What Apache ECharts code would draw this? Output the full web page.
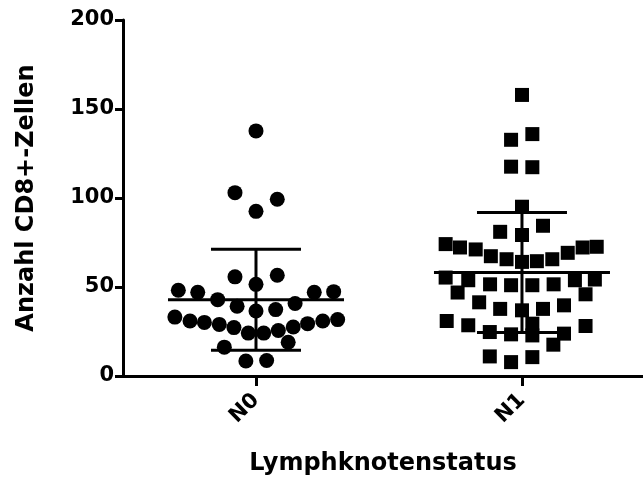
<!DOCTYPE html>
<html>
<head>
<meta charset="utf-8">
<script src="https://cdn.jsdelivr.net/npm/echarts@6/dist/echarts.min.js"></script>
<style>
  html, body { margin: 0; padding: 0; background: #fff; }
  #chart { width: 643px; height: 481px; }
</style>
</head>
<body>
<div id="chart"></div>
<script>
// Group names on the x axis
const categories = ['N0', 'N1'];
const yTicks = [0, 50, 100, 150, 200];

// N0: CD8+ counts and horizontal spread inside the column (axis units)
const n0Values = [137.7, 103.0, 99.3, 92.5, 55.7, 56.6, 51.5, 48.2, 47.0, 47.0, 47.4,
  42.9, 39.2, 36.5, 37.3, 40.7, 33.1, 30.9, 30.1, 29.0, 27.2, 24.1, 24.1, 25.6,
  27.5, 29.4, 30.9, 31.7, 16.2, 19.0, 8.4, 8.7];
const n0Offsets = [0, -0.079, 0.080, 0, -0.079, 0.080, 0, -0.292, -0.219, 0.219, 0.292,
  -0.144, -0.071, 0, 0.074, 0.147, -0.305, -0.248, -0.194, -0.138, -0.083, -0.029, 0.029, 0.084,
  0.140, 0.194, 0.251, 0.307, -0.119, 0.121, -0.038, 0.040];

// N1: CD8+ counts and horizontal spread inside the column (axis units)
const n1Values = [157.9, 132.7, 135.9, 117.6, 117.3, 95.1, 81.0, 84.4, 79.2,
  74.1, 72.2, 71.1, 67.3, 65.6, 64.1, 64.5, 65.6, 69.2, 72.2, 72.6,
  55.3, 53.8, 51.5, 51.0, 51.0, 51.5, 53.8, 54.2,
  46.9, 45.9, 41.4, 39.7, 37.7, 36.9, 37.7,
  30.9, 28.5, 28.1, 29.4, 24.7, 23.4, 22.8, 23.8, 17.6, 11.0, 7.8, 10.6];
const n1Offsets = [0, -0.041, 0.039, -0.041, 0.039, 0, -0.082, 0.079, 0,
  -0.287, -0.233, -0.174, -0.117, -0.058, 0, 0.056, 0.114, 0.172, 0.228, 0.281,
  -0.287, -0.202, -0.120, -0.041, 0.039, 0.119, 0.199, 0.274,
  -0.242, 0.239, -0.161, 0.158, -0.082, 0, 0.079,
  -0.283, -0.202, 0.239, 0.039, -0.121, -0.041, 0.039, 0.158, 0.118, -0.121, -0.041, 0.039];

// Mean and standard deviation per group
const groupMeans = [42.8, 58.1];
const groupSds = [28.4, 33.7];

const FONT = 'DejaVu Sans';

function points(values, offsets, catIndex) {
  return values.map((v, i) => [catIndex + offsets[i], v]);
}

const chart = echarts.init(document.getElementById('chart'), null, { renderer: 'canvas' });

const axisLineStyle = { color: '#000', width: 3 };

chart.setOption({
  backgroundColor: '#fff',
  animation: false,
  grid: { left: 123, right: 0, top: 20, bottom: 105 },
  xAxis: {
    type: 'value',
    min: -0.5,
    max: 1.455,
    splitLine: { show: false },
    axisLine: { show: true, onZero: false, lineStyle: axisLineStyle },
    axisTick: { show: true, customValues: [0, 1], length: 10, lineStyle: { color: '#000', width: 3 } },
    axisLabel: {
      customValues: [0, 1],
      formatter: v => categories[Math.round(v)],
      rotate: 45,
      margin: 21,
      color: '#000',
      fontFamily: FONT,
      fontWeight: 'bold',
      fontSize: 21
    },
    name: 'Lymphknotenstatus',
    nameLocation: 'middle',
    nameGap: 76,
    nameTextStyle: { color: '#000', fontFamily: FONT, fontWeight: 'bold', fontSize: 24 }
  },
  yAxis: {
    type: 'value',
    min: 0,
    max: 200,
    interval: 50,
    splitLine: { show: false },
    axisLine: { show: true, onZero: false, lineStyle: axisLineStyle },
    axisTick: { show: true, length: 8, lineStyle: { color: '#000', width: 3 } },
    axisLabel: {
      formatter: v => (yTicks.includes(v) ? String(v) : ''),
      margin: 9,
      color: '#000',
      fontFamily: FONT,
      fontWeight: 'bold',
      fontSize: 21
    },
    name: 'Anzahl CD8+-Zellen',
    nameLocation: 'middle',
    nameRotate: 90,
    nameGap: 84,
    nameTextStyle: { color: '#000', fontFamily: FONT, fontWeight: 'bold', fontSize: 24 }
  },
  series: [
    {
      name: 'N0',
      type: 'scatter',
      symbol: 'circle',
      symbolSize: 15,
      itemStyle: { color: '#000', opacity: 1 },
      data: points(n0Values, n0Offsets, 0)
    },
    {
      name: 'N1',
      type: 'scatter',
      symbol: 'rect',
      symbolSize: 14,
      itemStyle: { color: '#000', opacity: 1 },
      data: points(n1Values, n1Offsets, 1)
    },
    {
      // mean line with +/- SD whiskers for each group
      name: 'Mittelwert ± SD',
      type: 'custom',
      z: 5,
      encode: { x: 0, y: 1 },
      data: categories.map((c, i) => [i, groupMeans[i], groupSds[i]]),
      renderItem: function (params, api) {
        const x = api.value(0);
        const m = api.value(1);
        const sd = api.value(2);
        const c = api.coord([x, m]);
        const hi = api.coord([x, m + sd]);
        const lo = api.coord([x, m - sd]);
        const style = { stroke: '#000', lineWidth: 3 };
        const meanHalf = 88, capHalf = 45;
        return {
          type: 'group',
          children: [
            { type: 'line', shape: { x1: c[0] - meanHalf, y1: c[1], x2: c[0] + meanHalf, y2: c[1] }, style },
            { type: 'line', shape: { x1: hi[0], y1: hi[1], x2: lo[0], y2: lo[1] }, style },
            { type: 'line', shape: { x1: hi[0] - capHalf, y1: hi[1], x2: hi[0] + capHalf, y2: hi[1] }, style },
            { type: 'line', shape: { x1: lo[0] - capHalf, y1: lo[1], x2: lo[0] + capHalf, y2: lo[1] }, style }
          ]
        };
      }
    }
  ]
});
</script>
</body>
</html>
